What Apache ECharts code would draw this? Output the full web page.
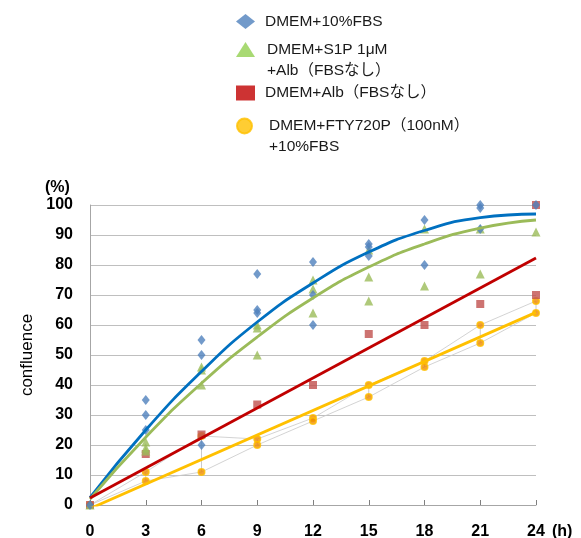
<!DOCTYPE html>
<html>
<head>
<meta charset="utf-8">
<script src="https://cdn.jsdelivr.net/npm/echarts@6/dist/echarts.min.js"></script>
<style>
  html, body { margin: 0; padding: 0; background: #fff; }
  #chart { width: 581px; height: 538px; }
</style>
</head>
<body>
<div id="chart"></div>
<script>
const hours = [0, 3, 6, 9, 12, 15, 18, 21, 24];

// replicate readings per time point (%)
const fbs10 = [[0], [35, 30, 25], [55, 50, 20], [77, 65, 64], [81, 70, 60], [87, 86, 83], [95, 80], [100, 99, 92], [100]];
const s1pAlb = [[0], [21, 19, 18], [46, 45, 40], [60, 59, 50], [75, 72, 64], [85, 76, 68], [92, 73], [92, 77], [91]];
const albOnly = [[0], [17], [23.5], [33.5], [40], [57], [60], [67], [100, 70]];
const ftyHigh = [0, 11, 23, 22, 29, 40, 48, 60, 68];
const ftyLow = [0, 8, 11, 20, 28, 36, 46, 54, 64];

// trend lines
const fbs10Fit = [2.5, 25, 44.5, 61, 74, 84.3, 91.5, 95.8, 97];
const s1pAlbFit = [2, 22.6, 40.6, 56, 69, 79.3, 87, 92.3, 95];
const fitEnds = [0, 24];
const albOnlyFit = [2.3, 82.3];
const ftyFit = [-1.2, 64.2];

const names = [
  'DMEM+10%FBS',
  'DMEM+S1P 1μM\n+Alb（FBSなし）',
  'DMEM+Alb（FBSなし）',
  'DMEM+FTY720P（100nM）\n+10%FBS'
];

const font = 'Liberation Sans, Noto Sans CJK JP, sans-serif';

function points(reps) {
  const out = [];
  reps.forEach((vals, i) => vals.forEach(v => out.push([hours[i], v])));
  return out;
}
function line(xs, ys) {
  return xs.map((x, i) => [x, ys[i]]);
}

// vertical connectors between the two FTY720P replicates
const ftyLinks = [];
hours.forEach((h, i) => {
  ftyLinks.push([h, ftyHigh[i]], [h, ftyLow[i]], [h, '-']);
});

function legendItem(top, name, icon, color, padLeft) {
  return {
    orient: 'vertical',
    left: 236,
    top: top,
    padding: 0,
    itemWidth: 19,
    itemHeight: 15,
    selectedMode: false,
    // two-line names get a blank first line so the icon sits beside line one
    formatter: n => (n.indexOf('\n') >= 0 ? ' \n' + n : n),
    textStyle: {
      fontSize: 15.5,
      fontFamily: font,
      color: '#1a1a1a',
      lineHeight: 21,
      padding: [0, 0, 0, padLeft]
    },
    data: [{ name: name, icon: icon, itemStyle: { color: color } }]
  };
}

const chart = echarts.init(document.getElementById('chart'), null, { renderer: 'canvas' });

const option = {
  backgroundColor: '#ffffff',
  animation: false,
  legend: [
    legendItem(11, names[0], 'diamond', '#4F81BD', 5),
    legendItem(18, names[1], 'triangle', '#92D050', 7),
    legendItem(82.5, names[2], 'rect', '#C00000', 5),
    legendItem(94.5, names[3], 'circle', '#FFC000', 10)
  ],
  grid: { left: 90, right: 45, top: 205, bottom: 33, outerBoundsMode: 'none' },
  graphic: [
    {
      type: 'text',
      left: 45,
      top: 180,
      style: { text: '(%)', font: 'bold 16px Liberation Sans', fill: '#000' }
    }
  ],
  xAxis: {
    type: 'value',
    min: 0,
    max: 24,
    interval: 3,
    name: '(h)',
    nameLocation: 'end',
    nameGap: 16,
    nameTextStyle: {
      fontSize: 16,
      fontWeight: 'bold',
      fontFamily: font,
      color: '#000',
      verticalAlign: 'top',
      padding: [19, 0, 0, 0]
    },
    axisLine: { show: true, lineStyle: { color: '#A6A6A6', width: 1 } },
    axisTick: { show: true, inside: true, length: 5, lineStyle: { color: '#7F7F7F' } },
    axisLabel: { fontSize: 16, fontWeight: 'bold', fontFamily: font, color: '#000', margin: 19 },
    splitLine: { show: false }
  },
  yAxis: {
    type: 'value',
    min: 0,
    max: 100,
    interval: 10,
    name: 'confluence',
    nameLocation: 'middle',
    nameGap: 50,
    nameTextStyle: { fontSize: 17, fontFamily: font, color: '#000' },
    axisLine: { show: true, lineStyle: { color: '#A6A6A6', width: 1 } },
    axisTick: { show: false },
    axisLabel: { fontSize: 16, fontWeight: 'bold', fontFamily: font, color: '#000', margin: 17 },
    splitLine: { show: true, lineStyle: { color: '#BFBFBF', width: 1 } }
  },
  series: [
    // thin grey replicate lines for FTY720P
    {
      type: 'line',
      data: line(hours, ftyHigh),
      symbol: 'none',
      silent: true,
      lineStyle: { color: '#C8C8C8', width: 0.8 },
      z: 1
    },
    {
      type: 'line',
      data: line(hours, ftyLow),
      symbol: 'none',
      silent: true,
      lineStyle: { color: '#C8C8C8', width: 0.8 },
      z: 1
    },
    {
      type: 'line',
      data: ftyLinks,
      symbol: 'none',
      silent: true,
      connectNulls: false,
      lineStyle: { color: '#BDBDBD', width: 0.8 },
      z: 1
    },
    {
      name: names[3],
      type: 'scatter',
      data: line(hours, ftyHigh).concat(line(hours, ftyLow)),
      symbol: 'circle',
      symbolSize: 6.5,
      itemStyle: { color: '#F08C00', borderColor: '#FFC000', borderWidth: 1.5 },
      z: 2
    },
    {
      name: names[2],
      type: 'scatter',
      data: points(albOnly),
      symbol: 'rect',
      symbolSize: 8,
      itemStyle: { color: '#C0504D' },
      z: 2
    },
    {
      name: names[1],
      type: 'scatter',
      data: points(s1pAlb),
      symbol: 'triangle',
      symbolSize: 9,
      itemStyle: { color: '#9BBB59' },
      z: 2
    },
    {
      name: names[0],
      type: 'scatter',
      data: points(fbs10),
      symbol: 'diamond',
      symbolSize: [8, 10],
      itemStyle: { color: '#4F81BD' },
      z: 2
    },
    // trend lines
    {
      type: 'line',
      data: line(hours, fbs10Fit),
      smooth: true,
      symbol: 'none',
      silent: true,
      lineStyle: { color: '#0070C0', width: 2.8 },
      z: 3
    },
    {
      type: 'line',
      data: line(hours, s1pAlbFit),
      smooth: true,
      symbol: 'none',
      silent: true,
      lineStyle: { color: '#9BBB59', width: 2.8 },
      z: 3
    },
    {
      type: 'line',
      data: line(fitEnds, albOnlyFit),
      symbol: 'none',
      silent: true,
      lineStyle: { color: '#C00000', width: 2.8 },
      z: 3
    },
    {
      type: 'line',
      data: line(fitEnds, ftyFit),
      symbol: 'none',
      silent: true,
      lineStyle: { color: '#FFC000', width: 2.8 },
      z: 3
    }
  ]
};

chart.setOption(option);
</script>
</body>
</html>
